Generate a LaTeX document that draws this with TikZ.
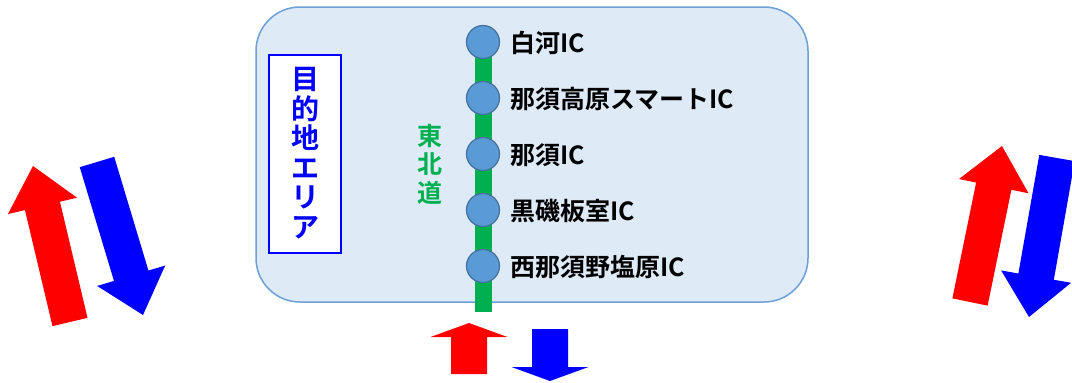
\documentclass[tikz,border=0pt]{standalone}
\usepackage{fontspec}
\newfontfamily\jp{Noto Sans CJK JP}[BoldFont={* Bold}]
\usetikzlibrary{calc}
\definecolor{boxfill}{RGB}{222,234,246}
\definecolor{boxline}{RGB}{108,160,214}
\definecolor{roadgreen}{RGB}{0,176,80}
\definecolor{icfill}{RGB}{91,155,213}
\definecolor{icline}{RGB}{65,113,156}
\definecolor{arrred}{RGB}{255,0,0}
\definecolor{arrblue}{RGB}{0,0,255}
\tikzset{
  ic/.style={circle, draw=icline, line width=1.2pt, fill=icfill, minimum size=33pt, inner sep=0pt},
  iclabel/.style={anchor=west, inner sep=0pt, font=\jp\bfseries\fontsize{25}{25}\selectfont},
  areabox/.style={draw=arrblue, line width=2pt, fill=white, minimum width=72pt, minimum height=198pt, inner sep=0pt},
}
% block arrow: colour, tail, tip, head length, shaft half width, head half width
\newcommand{\blockarr}[6]{%
  \coordinate (#2h) at ($(#3)!#4!(#2)$);
  \fill[#1] ($(#2)!#5!90:(#3)$) -- ($(#2h)!#5!90:(#3)$) -- ($(#2h)!#6!90:(#3)$)
    -- (#3) -- ($(#2h)!#6!-90:(#3)$) -- ($(#2h)!#5!-90:(#3)$)
    -- ($(#2)!#5!-90:(#3)$) -- cycle;
}
\begin{document}
\begin{tikzpicture}[x=1pt,y=-1pt]
\useasboundingbox (0,0) rectangle (1072,383);
% main area
\node[draw=boxline, line width=1.5pt, fill=boxfill, rounded corners=44pt, minimum width=552pt, minimum height=295pt, inner sep=0pt] (area) at (532,154.5) {};
% road
\coordinate (roadtop) at (483,42);
\coordinate (roadbot) at (483,312);
\draw[roadgreen, line width=17pt] (roadtop) -- (roadbot);
% destination label
\node[areabox] (dest) at (305,154) {};
\node[text=arrblue, font=\jp\bfseries\fontsize{28}{29.5}\selectfont, align=center, inner sep=0pt] (desttext) at (305,153) {目\\的\\地\\エ\\リ\\ア};
% road name
\node[text=roadgreen, font=\jp\bfseries\fontsize{25}{28.5}\selectfont, align=center, inner sep=0pt] (roadname) at (430,164) {東\\北\\道};
% interchanges
\node[ic] (ic1) at (483,42) {};
\node[ic] (ic2) at (483,98) {};
\node[ic] (ic3) at (483,154) {};
\node[ic] (ic4) at (483,210) {};
\node[ic] (ic5) at (483,266) {};
\node[iclabel] (l1) at (510,43) {白河IC};
\node[iclabel] (l2) at (510,99) {那須高原スマートIC};
\node[iclabel] (l3) at (510,155) {那須IC};
\node[iclabel] (l4) at (510,211) {黒磯板室IC};
\node[iclabel] (l5) at (510,267) {西那須野塩原IC};
% arrows left
\coordinate (lrt) at (70,322);  \coordinate (lrp) at (33,166);
\coordinate (lbt) at (97,162);  \coordinate (lbp) at (143,315);
\blockarr{arrred}{lrt}{lrp}{41pt}{18pt}{35.5pt}
\blockarr{arrblue}{lbt}{lbp}{41pt}{18pt}{35.5pt}
% arrows right
\coordinate (rrt) at (970,302); \coordinate (rrp) at (1002,146);
\coordinate (rbt) at (1057,158); \coordinate (rbp) at (1029,317);
\blockarr{arrred}{rrt}{rrp}{41pt}{18pt}{35.5pt}
\blockarr{arrblue}{rbt}{rbp}{41pt}{18pt}{35.5pt}
% arrows bottom
\coordinate (brt) at (469,374); \coordinate (brp) at (469,323);
\coordinate (bbt) at (550,329); \coordinate (bbp) at (550,381);
\blockarr{arrred}{brt}{brp}{14pt}{18pt}{38.5pt}
\blockarr{arrblue}{bbt}{bbp}{14pt}{18pt}{38.5pt}
\end{tikzpicture}
\end{document}
